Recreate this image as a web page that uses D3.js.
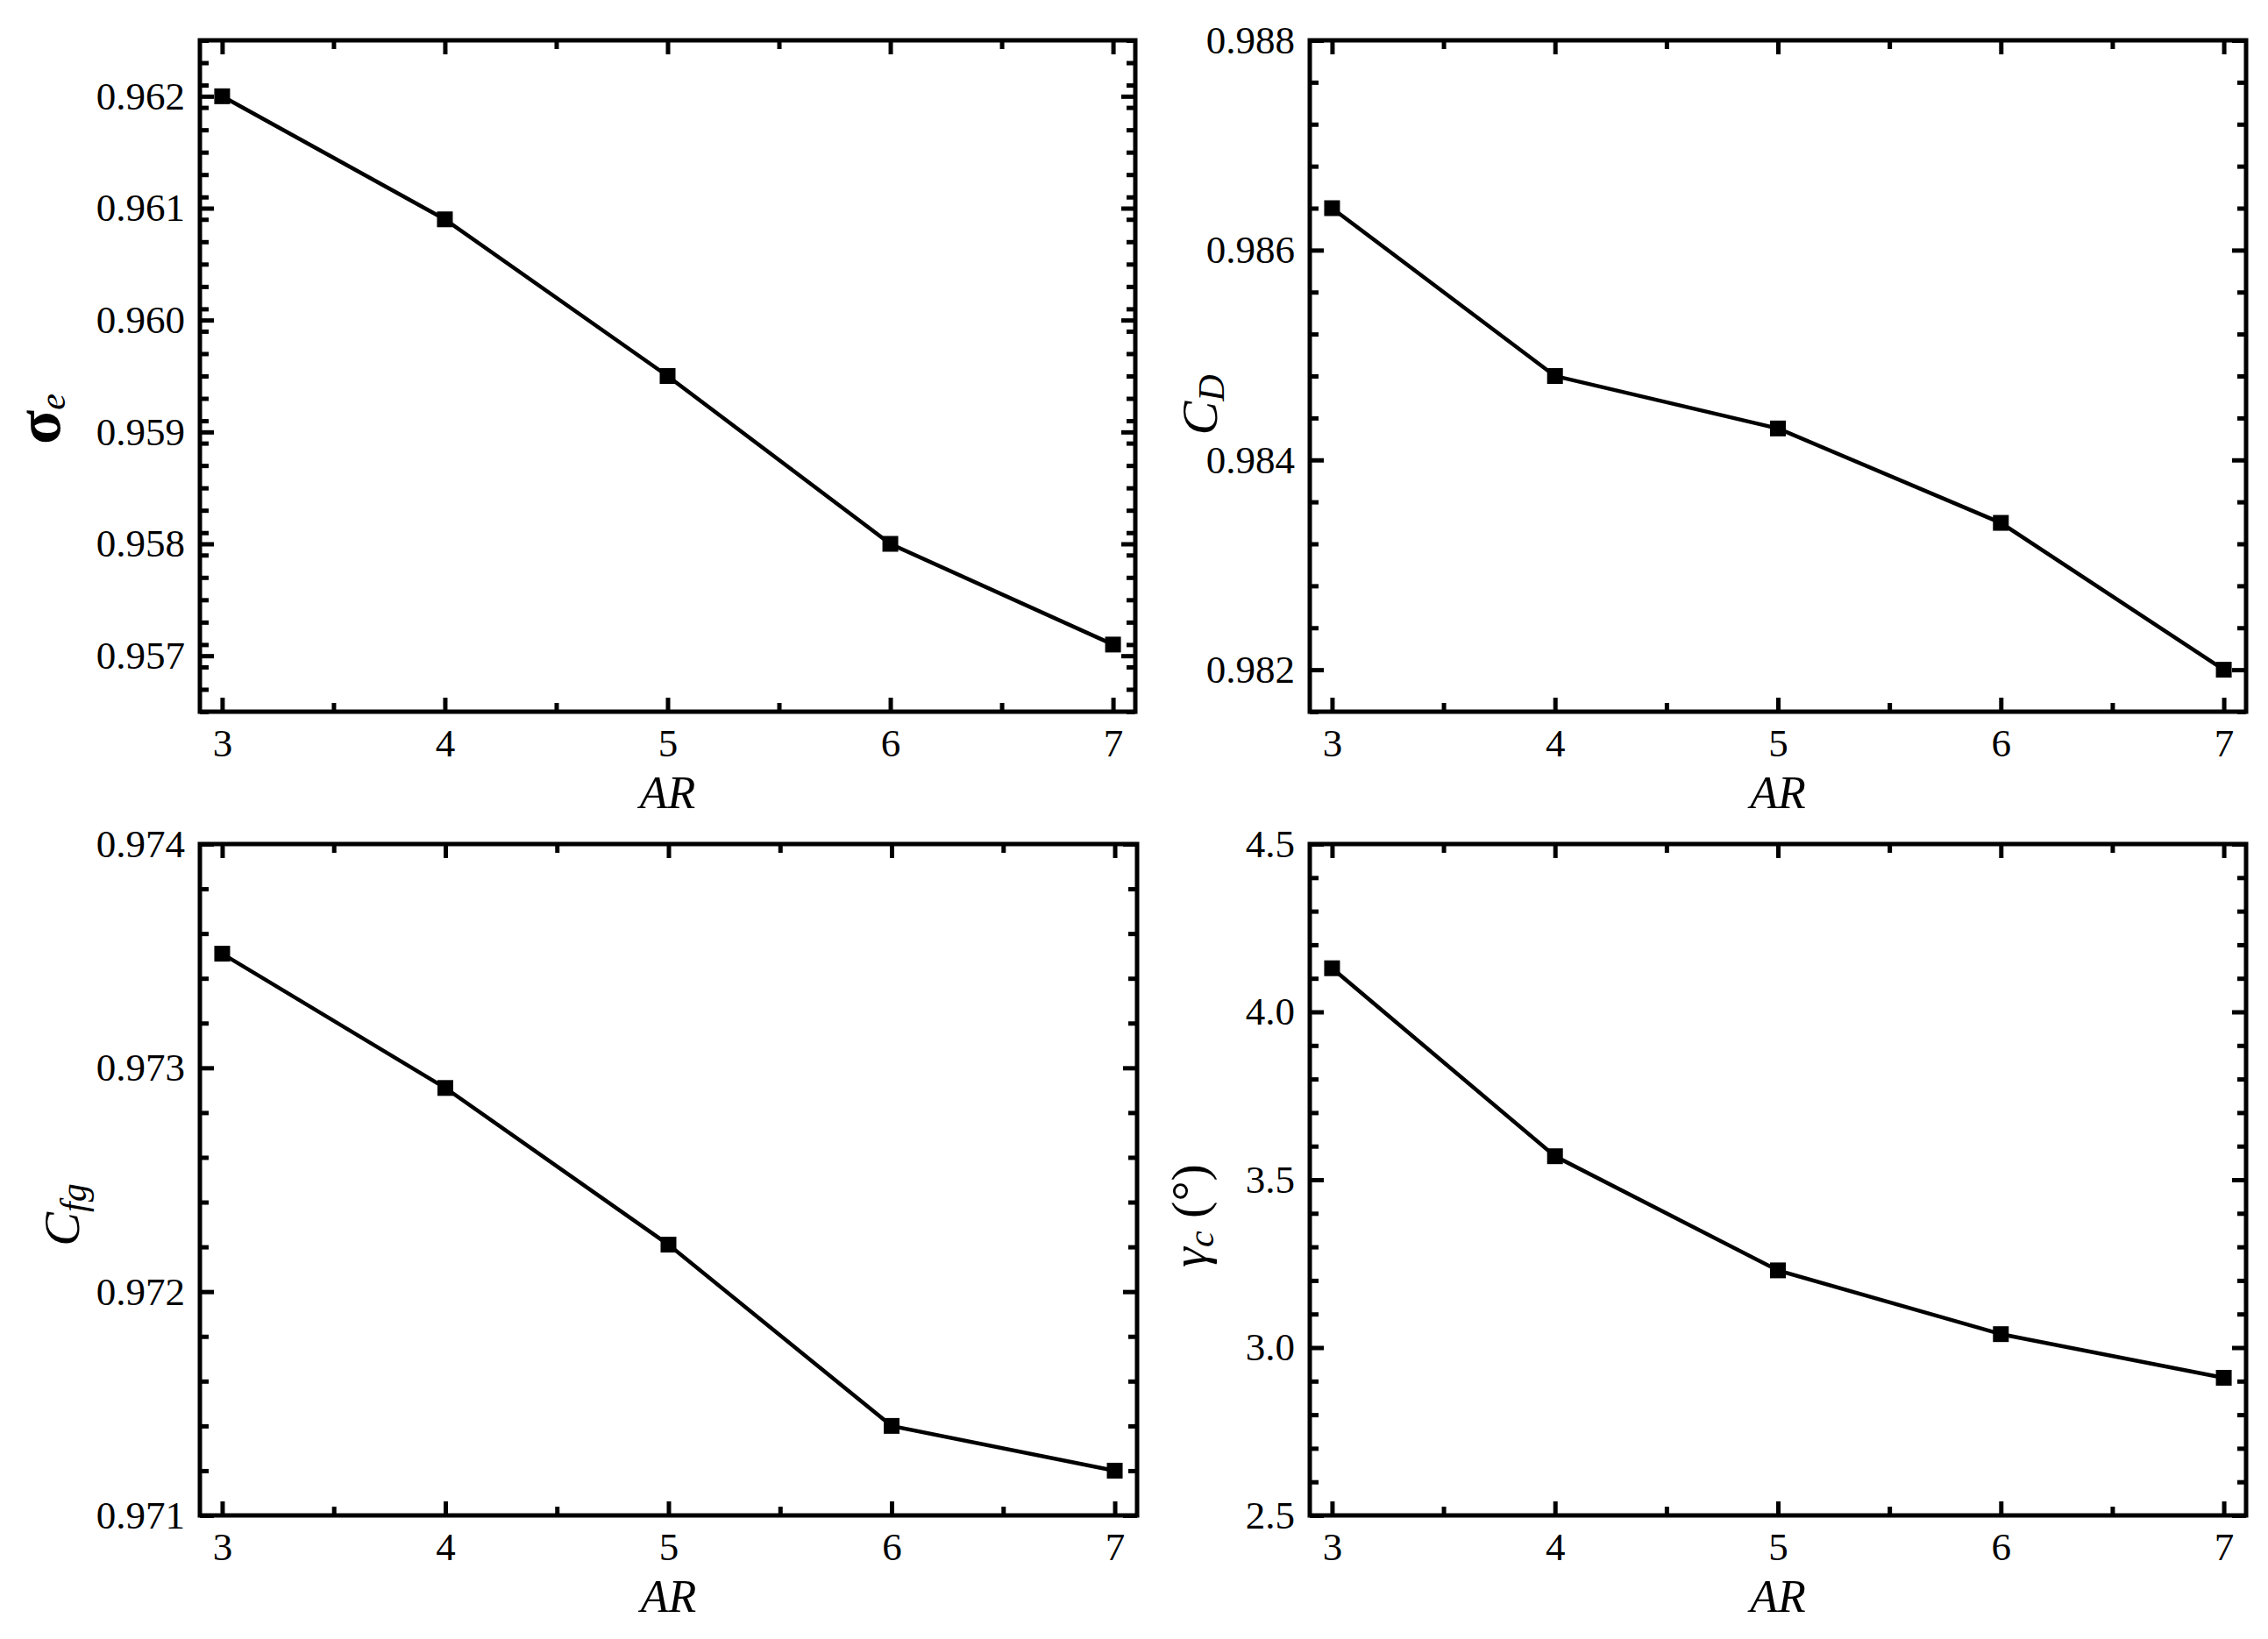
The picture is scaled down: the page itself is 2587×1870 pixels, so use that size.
<!DOCTYPE html>
<html>
<head>
<meta charset="utf-8">
<script src="https://cdn.jsdelivr.net/npm/d3@7"></script>
<style>
  body { margin: 0; background: #fff; }
  svg { display: block; }
</style>
</head>
<body>
<div id="chart"></div>
<script>
// x values (aspect ratio)
const arValues = [3, 4, 5, 6, 7];

// series
const sigmaE = [0.9620, 0.9609, 0.9595, 0.9580, 0.9571];
const cD = [0.98640, 0.98480, 0.98430, 0.98340, 0.98200];
const cFg = [0.97351, 0.97291, 0.97221, 0.97140, 0.97120];
const gammaC = [4.13, 3.57, 3.23, 3.04, 2.91];

// y axis ticks
const sigmaTicks = [0.957, 0.958, 0.959, 0.960, 0.961, 0.962];
const cDTicks = [0.982, 0.984, 0.986, 0.988];
const cFgTicks = [0.971, 0.972, 0.973, 0.974];
const gammaTicks = [2.5, 3.0, 3.5, 4.0, 4.5];

const serif = '"Liberation Serif", "Times New Roman", Times, "DejaVu Serif", "Noto Serif", serif';

const svgWidth = 2587;
const svgHeight = 1870;

const svg = d3.select('#chart').append('svg')
  .attr('width', svgWidth)
  .attr('height', svgHeight)
  .style('font-family', serif);

svg.append('rect')
  .attr('width', svgWidth)
  .attr('height', svgHeight)
  .attr('fill', '#fff');

const panels = [
  { x0: 228, y0: 46, x1: 1295, y1: 812, values: sigmaE, domain: [0.9565, 0.9625],
    ticks: sigmaTicks, minorStep: 0.0002, fmt: d3.format('.3f'), label: 'sigma', labelX: 44, labelY: 478 },
  { x0: 1494, y0: 46, x1: 2562, y1: 812, values: cD, domain: [0.9816, 0.988],
    ticks: cDTicks, minorStep: 0.0004, fmt: d3.format('.3f'), label: 'cd', labelX: 1368, labelY: 462 },
  { x0: 228, y0: 963, x1: 1297, y1: 1729, values: cFg, domain: [0.971, 0.974],
    ticks: cFgTicks, minorStep: 0.0002, fmt: d3.format('.3f'), label: 'cfg', labelX: 70, labelY: 1386 },
  { x0: 1494, y0: 963, x1: 2562, y1: 1729, values: gammaC, domain: [2.5, 4.5],
    ticks: gammaTicks, minorStep: 0.1, fmt: d3.format('.1f'), label: 'gamma', labelX: 1356, labelY: 1387 }
];

const majorLen = 16;
const minorLen = 10;
const strokeW = 5;

function minorTicks(domain, step) {
  let out = [];
  let n = Math.round((domain[1] - domain[0]) / step);
  for (let i = 0; i <= n; i++) {
    out.push(+(domain[0] + i * step).toFixed(6));
  }
  return out;
}

function styleAxis(g, hideText) {
  g.attr('font-family', null);
  g.select('.domain').remove();
  g.selectAll('.tick line')
    .attr('stroke', '#000')
    .attr('stroke-width', strokeW);
  g.selectAll('.tick text')
    .attr('fill', '#000')
    .style('font-family', serif)
    .style('font-size', '45px');
  if (hideText) g.selectAll('.tick text').remove();
}

panels.forEach(p => {
  const w = p.x1 - p.x0;
  const h = p.y1 - p.y0;
  const g = svg.append('g').attr('transform', `translate(${p.x0}, ${p.y0})`);

  const xScale = d3.scaleLinear().domain([2.9, 7.1]).range([0, w]);
  const yScale = d3.scaleLinear().domain(p.domain).range([h, 0]);

  const xMinor = [3.5, 4.5, 5.5, 6.5];
  const yMinor = minorTicks(p.domain, p.minorStep)
    .filter(v => !p.ticks.some(t => Math.abs(t - v) < 1e-7));

  // bottom axis
  g.append('g').attr('transform', `translate(0, ${h})`)
    .call(d3.axisBottom(xScale).tickValues(arValues).tickFormat(d3.format('d'))
      .tickSizeInner(-majorLen).tickSizeOuter(0).tickPadding(19))
    .call(a => styleAxis(a, false));
  g.append('g').attr('transform', `translate(0, ${h})`)
    .call(d3.axisBottom(xScale).tickValues(xMinor).tickSizeInner(-minorLen).tickSizeOuter(0))
    .call(a => styleAxis(a, true));

  // top axis (mirror)
  g.append('g')
    .call(d3.axisTop(xScale).tickValues(arValues).tickSizeInner(-majorLen).tickSizeOuter(0))
    .call(a => styleAxis(a, true));
  g.append('g')
    .call(d3.axisTop(xScale).tickValues(xMinor).tickSizeInner(-minorLen).tickSizeOuter(0))
    .call(a => styleAxis(a, true));

  // left axis
  g.append('g')
    .call(d3.axisLeft(yScale).tickValues(p.ticks).tickFormat(p.fmt)
      .tickSizeInner(-majorLen).tickSizeOuter(0).tickPadding(17))
    .call(a => styleAxis(a, false));
  g.append('g')
    .call(d3.axisLeft(yScale).tickValues(yMinor).tickSizeInner(-minorLen).tickSizeOuter(0))
    .call(a => styleAxis(a, true));

  // right axis (mirror)
  g.append('g').attr('transform', `translate(${w}, 0)`)
    .call(d3.axisRight(yScale).tickValues(p.ticks).tickSizeInner(-majorLen).tickSizeOuter(0))
    .call(a => styleAxis(a, true));
  g.append('g').attr('transform', `translate(${w}, 0)`)
    .call(d3.axisRight(yScale).tickValues(yMinor).tickSizeInner(-minorLen).tickSizeOuter(0))
    .call(a => styleAxis(a, true));

  // frame
  g.append('rect')
    .attr('width', w)
    .attr('height', h)
    .attr('fill', 'none')
    .attr('stroke', '#000')
    .attr('stroke-width', strokeW)
    .attr('stroke-linejoin', 'miter');

  // data line
  const line = d3.line()
    .x((d, i) => xScale(arValues[i]))
    .y(d => yScale(d));

  g.append('path')
    .datum(p.values)
    .attr('d', line)
    .attr('fill', 'none')
    .attr('stroke', '#000')
    .attr('stroke-width', 4.5);

  const size = 18;
  g.selectAll('rect.marker')
    .data(p.values)
    .enter()
    .append('rect')
    .attr('class', 'marker')
    .attr('x', (d, i) => xScale(arValues[i]) - size / 2)
    .attr('y', d => yScale(d) - size / 2)
    .attr('width', size)
    .attr('height', size)
    .attr('fill', '#000');

  // x label
  g.append('text')
    .attr('x', w / 2)
    .attr('y', h + 110)
    .attr('text-anchor', 'middle')
    .style('font-family', serif)
    .style('font-style', 'italic')
    .style('font-size', '52px')
    .text('AR');

  // y label
  const yl = svg.append('text')
    .attr('transform', `translate(${p.labelX}, ${p.labelY}) rotate(-90)`)
    .attr('text-anchor', 'middle')
    .attr('dominant-baseline', 'central')
    .style('font-family', serif)
    .style('font-size', '58px');

  if (p.label === 'sigma') {
    yl.append('tspan').style('font-weight', 'bold').style('font-size', '72px').text('σ');
    yl.append('tspan').style('font-style', 'italic').style('font-size', '42px')
      .attr('dy', 16).text('e');
  } else if (p.label === 'cd') {
    yl.append('tspan').style('font-style', 'italic').text('C');
    yl.append('tspan').style('font-style', 'italic').style('font-size', '42px')
      .attr('dy', 14).text('D');
  } else if (p.label === 'cfg') {
    yl.append('tspan').style('font-style', 'italic').text('C');
    yl.append('tspan').style('font-style', 'italic').style('font-size', '42px')
      .attr('dy', 14).text('fg');
  } else {
    yl.append('tspan').style('font-style', 'italic').text('γ');
    yl.append('tspan').style('font-style', 'italic').style('font-size', '42px')
      .attr('dy', 14).text('c');
    yl.append('tspan').attr('dy', -14).text(' (°)');
  }
});
</script>
</body>
</html>
